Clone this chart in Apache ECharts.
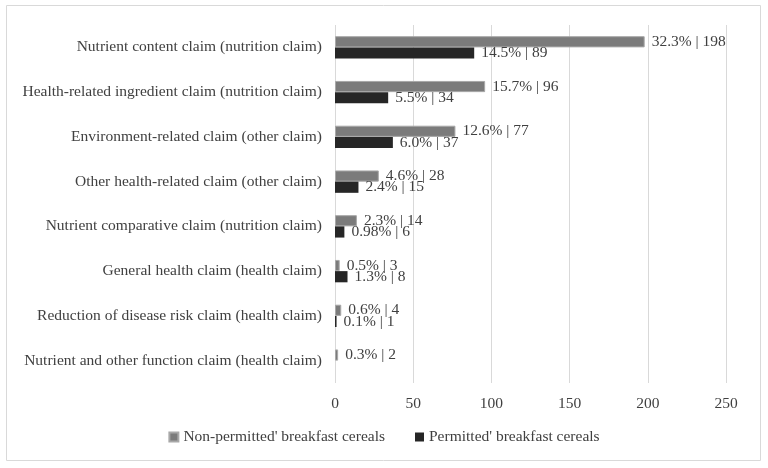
<!DOCTYPE html>
<html><head><meta charset="utf-8">
<script src="https://cdn.jsdelivr.net/npm/echarts@6/dist/echarts.min.js"></script>
<style>html,body{margin:0;padding:0;background:#fff}#c{width:768px;height:468px}</style>
</head><body><div id="c"></div>
<script>
const categories = [
  "Nutrient content claim (nutrition claim)",
  "Health-related ingredient claim (nutrition claim)",
  "Environment-related claim (other claim)",
  "Other health-related claim (other claim)",
  "Nutrient comparative claim (nutrition claim)",
  "General health claim (health claim)",
  "Reduction of disease risk claim (health claim)",
  "Nutrient and other function claim (health claim)"
];
const nonPermittedCounts = [198, 96, 77, 28, 14, 3, 4, 2];
const nonPermittedPct = ["32.3%", "15.7%", "12.6%", "4.6%", "2.3%", "0.5%", "0.6%", "0.3%"];
const permittedCounts = [89, 34, 37, 15, 6, 8, 1, null];
const permittedPct = ["14.5%", "5.5%", "6.0%", "2.4%", "0.98%", "1.3%", "0.1%", ""];
const xTicks = {min: 0, max: 250, interval: 50};

const font = "'Liberation Serif', 'Times New Roman', serif";
const fs = 15.5;
const chart = echarts.init(document.getElementById('c'));
chart.setOption({
  animation: false,
  textStyle: {fontFamily: font},
  graphic: [{type: 'rect', shape: {x: 6.5, y: 5.5, width: 754, height: 455},
    style: {fill: 'none', stroke: '#d9d9d9', lineWidth: 1}, silent: true, z: -1}],
  grid: {left: 335, right: 42, top: 25, bottom: 85, containLabel: false},
  legend: {
    bottom: 18, left: 'center', itemWidth: 9, itemHeight: 9, itemGap: 30,
    icon: 'rect',
    textStyle: {fontFamily: font, fontSize: fs, color: '#404040'},
    data: ["Non-permitted' breakfast cereals", "Permitted' breakfast cereals"]
  },
  xAxis: {
    type: 'value', min: xTicks.min, max: xTicks.max, interval: xTicks.interval,
    axisLine: {show: false}, axisTick: {show: false},
    splitLine: {lineStyle: {color: '#d9d9d9', width: 1}},
    axisLabel: {fontFamily: font, fontSize: fs, color: '#404040', margin: 13}
  },
  yAxis: {
    type: 'category', data: categories, inverse: true,
    axisLine: {show: false}, axisTick: {show: false},
    axisLabel: {fontFamily: font, fontSize: fs, color: '#404040', margin: 13}
  },
  series: [
    {
      name: "Non-permitted' breakfast cereals", type: 'bar',
      data: nonPermittedCounts, barGap: '0%', barCategoryGap: '50%',
      itemStyle: {color: '#7b7b7b', borderColor: '#a8a8a8', borderWidth: 1},
      label: {show: true, position: 'right', distance: 7, fontFamily: font, fontSize: fs, color: '#404040',
        formatter: p => nonPermittedPct[p.dataIndex] + ' | ' + p.value}
    },
    {
      name: "Permitted' breakfast cereals", type: 'bar',
      data: permittedCounts,
      itemStyle: {color: '#262626'},
      label: {show: true, position: 'right', distance: 7, fontFamily: font, fontSize: fs, color: '#404040',
        formatter: p => p.value == null ? '' : permittedPct[p.dataIndex] + ' | ' + p.value}
    }
  ]
});
</script></body></html>
